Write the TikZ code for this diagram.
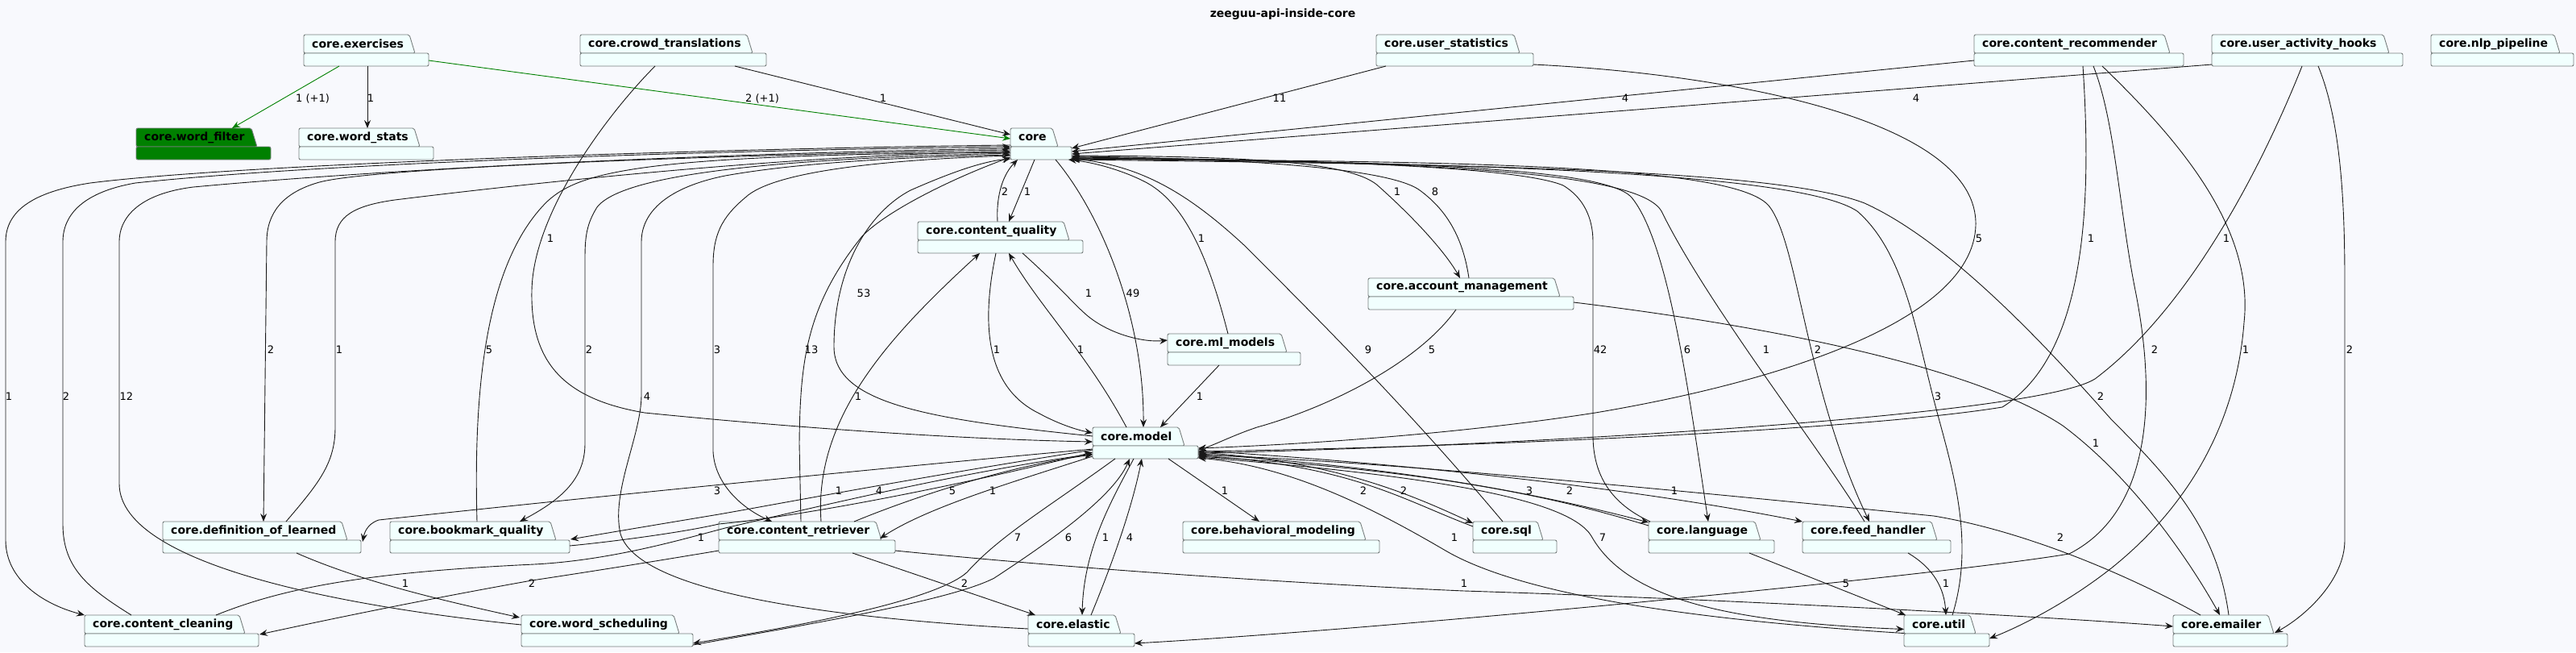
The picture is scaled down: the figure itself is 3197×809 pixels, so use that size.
\documentclass[tikz,border=0pt]{standalone}
\usepackage{fontspec}
\setmainfont{DejaVu Sans}
\usepackage{tikz}
\usepackage{xcolor}
\usetikzlibrary{arrows.meta,calc}

\definecolor{bgcol}{RGB}{248,249,253}
\definecolor{pkgcol}{RGB}{241,255,254}
\definecolor{pkgline}{RGB}{120,126,126}
\definecolor{wfgreen}{RGB}{0,128,0}
\definecolor{edgecol}{RGB}{24,24,24}

\begin{document}
\begin{tikzpicture}[x=1pt,y=-1pt,
    pkg/.style={draw=pkgline,line width=0.9pt,rounded corners=2pt},
    box/.style={rectangle,draw=none,inner sep=0pt,outer sep=0pt,minimum height=39pt},
    pkgname/.style={anchor=west,inner sep=0pt,font=\fontsize{14}{16}\selectfont\bfseries},
    lbl/.style={inner sep=0pt,font=\fontsize{13}{15}\selectfont},
    dep/.style={draw=edgecol,line width=0.9pt,-{Stealth[length=10pt,width=8pt,inset=3.5pt]}},
    depg/.style={dep,draw=wfgreen}]

        \fill[bgcol] (0,0) rectangle (3197,809);
        \useasboundingbox (0,0) rectangle (3197,809);

        \node[font=\fontsize{14}{16}\selectfont\bfseries] (title) at (1592,18) {zeeguu-api-inside-core};

        % Draw the packages
        \foreach \nm/\xa/\ya/\xb/\txt/\col in {
            exercises/377/43/532/core.exercises/pkgcol,
            crowd/720/43/951/core.crowd\_translations/pkgcol,
            userstats/1708/43/1903/core.user\_statistics/pkgcol,
            recommender/2450/43/2710/core.content\_recommender/pkgcol,
            hooks/2745/43/2982/core.user\_activity\_hooks/pkgcol,
            nlp/3017/43/3194/core.nlp\_pipeline/pkgcol,
            wordfilter/169/159/336/core.word\_filter/wfgreen,
            wordstats/371/159/538/core.word\_stats/pkgcol,
            core/1254/159/1330/core/pkgcol,
            quality/1139/275/1344/core.content\_quality/pkgcol,
            account/1698/345/1953/core.account\_management/pkgcol,
            ml/1449/414/1614/core.ml\_models/pkgcol,
            model/1356/530/1487/core.model/pkgcol,
            definition/202/647/448/core.definition\_of\_learned/pkgcol,
            bookmark/484/647/707/core.bookmark\_quality/pkgcol,
            retriever/892/647/1111/core.content\_retriever/pkgcol,
            behavioral/1468/647/1712/core.behavioral\_modeling/pkgcol,
            sql/1828/647/1932/core.sql/pkgcol,
            language/2046/647/2202/core.language/pkgcol,
            feed/2237/647/2421/core.feed\_handler/pkgcol,
            cleaning/105/763/321/core.content\_cleaning/pkgcol,
            scheduling/647/763/860/core.word\_scheduling/pkgcol,
            elastic/1276/763/1408/core.elastic/pkgcol,
            util/2363/763/2469/core.util/pkgcol,
            emailer/2697/763/2839/core.emailer/pkgcol}{
            \filldraw[pkg,fill=\col] (\xa,\ya+23) -- (\xa,\ya) -- (\xb-24,\ya) -- (\xb-17,\ya+23) -- cycle;
            \filldraw[pkg,fill=\col] (\xa,\ya+23) rectangle (\xb,\ya+39);
            \node[box,minimum width={(\xb-\xa)*1pt}] (\nm) at ({(\xa+\xb)/2},{\ya+19.5}) {};
            \node[pkgname] (\nm-t) at ({\xa+10},{\ya+11.5}) {\txt};
        }

        % top row
        \draw[depg] ($(exercises.south west)+(44,0)$) -- ($(wordfilter.north west)+(119,0)$);
        \draw[dep] ($(exercises.south west)+(79,0)$) -- ($(wordstats.north west)+(85,0)$);
        \draw[depg] ($(exercises.north west)+(155,32)$) -- ($(core.north west)+(0,13)$);
        \draw[dep] ($(crowd.south west)+(192,0)$) -- ($(core.north west)+(0,8)$);
        \draw[dep] ($(crowd.south west)+(93,0)$) .. controls (760,135) and (662,260) .. (660,360) .. controls (658,450) and (700,495) .. (800,512) .. controls (1000,532) and (1200,545) .. ($(model.north west)+(0,18)$);
        \draw[dep] ($(userstats.south west)+(12,0)$) -- ($(core.north west)+(76,25)$);
        \draw[dep] ($(userstats.north west)+(195,37)$) .. controls (2150,92) and (2456,150) .. (2452,280) .. controls (2448,400) and (2200,475) .. (1980,512) .. controls (1800,540) and (1600,552) .. ($(model.north west)+(131,26)$);
        \draw[dep] ($(recommender.north west)+(0,32)$) -- ($(core.north west)+(76,29)$);
        \draw[dep] ($(recommender.south west)+(135,0)$) .. controls (2596,250) and (2590,440) .. (2485,505) .. controls (2300,535) and (1800,555) .. ($(model.north west)+(131,30)$);
        \draw[dep] ($(recommender.south west)+(148,0)$) .. controls (2625,150) and (2630,260) .. (2650,360) .. controls (2672,470) and (2680,630) .. (2568,687) .. controls (2400,715) and (1700,782) .. ($(elastic.north west)+(132,35)$);
        \draw[dep] ($(recommender.south west)+(159,0)$) .. controls (2700,170) and (2798,280) .. (2785,400) .. controls (2776,520) and (2720,625) .. (2620,705) .. controls (2560,752) and (2500,780) .. ($(util.north west)+(106,29)$);
        \draw[dep] ($(hooks.north west)+(0,37)$) -- ($(core.north west)+(76,32)$);
        \draw[dep] ($(hooks.south west)+(112,0)$) .. controls (2810,200) and (2720,380) .. (2600,470) .. controls (2520,520) and (1800,556) .. ($(model.north west)+(131,32)$);
        \draw[dep] ($(hooks.south west)+(132,0)$) .. controls (2905,150) and (2910,250) .. (2910,350) -- (2910,670) .. controls (2910,720) and (2860,765) .. ($(emailer.north east)+(-16,22)$);

        % core, left side
        \draw[dep] ($(core.north west)+(0,21)$) .. controls (900,184) and (300,203) .. (112,227) .. controls (40,238) and (7,262) .. (7,300) -- (7,670) .. controls (7,720) and (55,750) .. (cleaning.north west);
        \draw[dep] ($(cleaning.north west)+(58,0)$) .. controls (110,730) and (78,705) .. (78,650) -- (78,300) .. controls (78,265) and (105,238) .. (168,227) .. controls (400,202) and (900,186) .. ($(core.north west)+(0,23)$);
        \draw[dep] ($(scheduling.north west)+(0,12)$) .. controls (450,755) and (148,705) .. (148,600) -- (148,300) .. controls (148,268) and (175,240) .. (240,232) .. controls (500,208) and (900,190) .. ($(core.north west)+(0,25)$);
        \draw[dep] ($(core.north west)+(0,27)$) .. controls (900,192) and (450,208) .. (393,227) .. controls (350,240) and (331,265) .. (331,300) -- ($(definition.north west)+(125,0)$);
        \draw[dep] ($(definition.north west)+(153,0)$) .. controls (395,600) and (416,575) .. (416,530) -- (416,300) .. controls (416,268) and (440,255) .. (490,248) .. controls (700,222) and (1000,192) .. ($(core.north west)+(0,29)$);
        \draw[dep] ($(bookmark.north west)+(108,0)$) .. controls (588,500) and (598,330) .. (679,250) .. controls (720,212) and (800,192) .. ($(core.north west)+(0,30)$);
        \draw[dep] ($(core.north west)+(0,31)$) .. controls (1000,196) and (760,212) .. (738,262) .. controls (728,280) and (726,295) .. (726,320) -- (726,550) .. controls (726,592) and (700,618) .. ($(bookmark.north west)+(161,0)$);
        \draw[dep] ($(elastic.north west)+(0,17)$) .. controls (1000,765) and (790,730) .. (770,662) .. controls (758,610) and (796,540) .. (796,490) -- (796,300) .. controls (796,262) and (830,232) .. (900,218) .. controls (1000,200) and (1150,194) .. ($(core.north west)+(0,33)$);
        \draw[dep] ($(core.north west)+(0,34)$) .. controls (1100,198) and (960,212) .. (925,245) .. controls (895,270) and (885,292) .. (885,330) -- (885,560) .. controls (887,600) and (920,630) .. ($(retriever.north west)+(66,0)$);
        \draw[dep] ($(retriever.north west)+(102,0)$) -- (992,550) .. controls (993,450) and (1000,380) .. (1070,293) .. controls (1100,262) and (1180,222) .. ($(core.north west)+(0,36)$);
        \draw[dep] ($(model.north west)+(0,11)$) .. controls (1150,520) and (1035,500) .. (1035,430) .. controls (1035,330) and (1080,262) .. (1130,236) .. controls (1180,214) and (1220,200) .. ($(core.north west)+(0,38)$);

        % core, bottom
        \draw[dep] ($(quality.north west)+(99,0)$) .. controls (1236,240) and (1246,215) .. ($(core.south west)+(9,0)$);
        \draw[dep] ($(core.south west)+(30,0)$) -- ($(quality.north west)+(113,0)$);
        \draw[dep] ($(core.south west)+(56,0)$) .. controls (1370,270) and (1420,400) .. ($(model.north west)+(63,0)$);
        \draw[dep] ($(ml.north west)+(75,0)$) .. controls (1500,320) and (1470,250) .. (1420,225) .. controls (1390,210) and (1355,201) .. ($(core.south east)+(-4,0)$);

        % core, right side
        \draw[dep] ($(sql.north west)+(37,0)$) .. controls (1750,510) and (1640,400) .. (1545,305) .. controls (1480,245) and (1420,205) .. ($(core.south east)+(0,-1)$);
        \draw[dep] ($(core.north west)+(76,34)$) .. controls (1550,194) and (1680,200) .. (1712,232) .. controls (1760,275) and (1795,315) .. ($(account.north west)+(114,0)$);
        \draw[dep] ($(account.north west)+(125,0)$) .. controls (1815,290) and (1792,258) .. (1762,236) .. controls (1720,205) and (1500,196) .. ($(core.north west)+(76,35)$);
        \draw[dep] ($(language.north west)+(2,0)$) .. controls (2000,625) and (1977,590) .. (1977,540) -- (1977,300) .. controls (1977,270) and (1965,245) .. (1940,230) .. controls (1880,205) and (1600,198) .. ($(core.north west)+(76,36)$);
        \draw[dep] ($(core.north west)+(76,37)$) .. controls (1700,200) and (1990,205) .. (2025,245) .. controls (2070,300) and (2095,480) .. ($(language.north west)+(74,0)$);
        \draw[dep] ($(feed.north west)+(77,0)$) .. controls (2262,560) and (2120,380) .. (2062,262) .. controls (2035,215) and (1800,200) .. ($(core.north west)+(76,37)$);
        \draw[dep] ($(core.north west)+(76,38)$) .. controls (1800,200) and (2150,203) .. (2195,255) .. controls (2232,300) and (2240,480) .. ($(feed.north west)+(83,0)$);
        \draw[dep] ($(util.north west)+(60,0)$) .. controls (2455,660) and (2415,560) .. (2396,480) .. controls (2376,400) and (2360,310) .. (2305,262) .. controls (2230,212) and (1800,202) .. ($(core.north west)+(76,38)$);
        \draw[dep] ($(emailer.north west)+(69,0)$) .. controls (2752,660) and (2700,600) .. (2620,520) .. controls (2540,430) and (2420,300) .. (2314,252) .. controls (2200,208) and (1800,204) .. (core.south east);

        % content_quality, ml_models, account_management
        \draw[dep] ($(quality.south west)+(130,0)$) .. controls (1320,360) and (1330,375) .. (1350,392) .. controls (1378,415) and (1420,425) .. ($(ml.north west)+(0,8)$);
        \draw[dep] ($(quality.south west)+(97,0)$) .. controls (1218,400) and (1222,480) .. (1290,513) .. controls (1312,525) and (1335,533) .. ($(model.north west)+(0,7)$);
        \draw[dep] ($(model.north west)+(42,0)$) .. controls (1350,440) and (1290,380) .. ($(quality.south west)+(113,0)$);
        \draw[dep] ($(retriever.north west)+(127,0)$) .. controls (1010,520) and (1100,420) .. ($(quality.south west)+(77,0)$);
        \draw[dep] ($(ml.south west)+(64,0)$) -- ($(model.north west)+(84,0)$);
        \draw[dep] ($(account.south west)+(109,0)$) .. controls (1760,450) and (1650,505) .. (1560,530) .. controls (1530,540) and (1505,553) .. ($(model.north west)+(131,28)$);
        \draw[dep] ($(account.north east)+(0,30)$) .. controls (2200,405) and (2450,455) .. (2560,528) .. controls (2650,595) and (2720,700) .. ($(emailer.north west)+(58,0)$);

        % model, left side
        \draw[dep] ($(model.north west)+(0,27)$) .. controls (1100,580) and (700,620) .. (470,645) .. controls (455,650) and (452,662) .. ($(definition.north east)+(2,25)$);
        \draw[dep] ($(model.north west)+(0,28)$) .. controls (1150,590) and (950,628) .. (892,638) .. controls (850,645) and (760,660) .. ($(bookmark.north east)+(1,22)$);
        \draw[dep] ($(bookmark.north east)+(0,30)$) .. controls (760,672) and (850,660) .. (892,650) .. controls (1000,640) and (1200,600) .. ($(model.north west)+(0,31)$);
        \draw[dep] ($(cleaning.north west)+(163,0)$) .. controls (350,730) and (450,710) .. (663,700) .. controls (760,695) and (850,668) .. (900,655) .. controls (1050,620) and (1200,585) .. ($(model.north west)+(0,33)$);
        \draw[dep] ($(retriever.north west)+(168,0)$) .. controls (1130,618) and (1250,578) .. ($(model.north west)+(0,34)$);
        \draw[dep] ($(model.north west)+(0,36)$) .. controls (1250,600) and (1150,630) .. ($(retriever.north east)+(-19,21)$);

        % model, bottom
        \draw[dep] ($(model.south west)+(28,0)$) .. controls (1300,630) and (1240,665) .. (1200,710) .. controls (1160,745) and (1000,775) .. ($(scheduling.south east)+(0,-4)$);
        \draw[dep] ($(scheduling.south east)+(0,-2)$) .. controls (1000,775) and (1180,745) .. (1234,717) .. controls (1290,680) and (1380,620) .. ($(model.south west)+(46,0)$);
        \draw[dep] ($(model.south west)+(51,0)$) .. controls (1380,620) and (1345,680) .. ($(elastic.north west)+(67,0)$);
        \draw[dep] ($(elastic.north west)+(78,0)$) .. controls (1380,700) and (1405,630) .. ($(model.south west)+(61,0)$);
        \draw[dep] ($(model.south west)+(94,0)$) -- ($(behavioral.north west)+(95,0)$);

        % model, right side
        \draw[dep] ($(model.north east)+(0,31)$) .. controls (1650,572) and (1740,608) .. ($(sql.north west)+(0,2)$);
        \draw[dep] ($(sql.north west)+(0,6)$) .. controls (1740,620) and (1680,578) .. ($(model.north east)+(0,35)$);
        \draw[dep] ($(model.north east)+(0,33)$) .. controls (1750,580) and (1920,615) .. ($(language.north west)+(0,1)$);
        \draw[dep] ($(language.north west)+(0,5)$) .. controls (1940,620) and (1800,585) .. ($(model.north east)+(0,36)$);
        \draw[dep] ($(model.north east)+(0,29)$) .. controls (1700,572) and (2000,600) .. (feed.north west);
        \draw[dep] ($(model.north east)+(0,37)$) .. controls (1750,588) and (1945,615) .. (1975,665) .. controls (2020,745) and (2150,772) .. ($(util.west)+(0,-2)$);
        \draw[dep] ($(util.west)+(0,3)$) .. controls (2150,772) and (1900,745) .. (1794,683) .. controls (1700,628) and (1600,578) .. ($(model.south east)+(0,-1)$);
        \draw[dep] ($(emailer.north west)+(34,0)$) .. controls (2650,718) and (2520,660) .. (2400,640) .. controls (2000,600) and (1700,572) .. ($(model.north east)+(0,34)$);

        % the rest
        \draw[dep] ($(retriever.north west)+(0,36)$) .. controls (850,690) and (760,705) .. (660,720) .. controls (520,745) and (400,770) .. ($(cleaning.south east)+(1,-15)$);
        \draw[dep] ($(retriever.south west)+(166,0)$) -- ($(elastic.north west)+(9,0)$);
        \draw[dep] ($(retriever.north east)+(0,36)$) .. controls (1400,712) and (1700,728) .. (1817,733) .. controls (2100,742) and (2500,762) .. ($(emailer.west)+(0,-5.5)$);
        \draw[dep] ($(definition.south west)+(166,0)$) .. controls (450,722) and (550,745) .. ($(scheduling.north west)+(-2,3)$);
        \draw[dep] ($(language.south west)+(125,0)$) -- ($(util.north west)+(2,0)$);
        \draw[dep] ($(feed.south west)+(131,0)$) .. controls (2400,705) and (2413,730) .. ($(util.north west)+(52,0)$);

        % Draw the counts
        \foreach \lx/\ly/\lt [count=\i] in {
            388/122/1 (+1), 460/122/1, 946/122/2 (+1), 1096/122/1, 1588/122/11, 2017/122/4, 2378/122/4,
            1247/238/2, 1275/238/1, 1734/238/1, 1781/238/8,
            683/296/1, 1491/296/1, 2456/296/5, 2595/296/1, 2763/296/1,
            1072/364/53, 1351/364/1, 1406/364/49,
            336/434/2, 421/434/1, 607/434/5, 731/434/2, 890/434/3, 1007/434/13, 1237/434/1, 1341/434/1,
            1698/434/9, 1777/434/5, 1986/434/42, 2094/434/6, 2192/434/1, 2256/434/2, 2674/434/2, 2787/434/1, 2916/434/2,
            11/492/1, 82/492/2, 157/492/12, 803/492/4, 1065/492/1, 1489/492/1, 2405/492/3, 2607/492/2,
            2601/550/1,
            890/609/3, 1041/609/1, 1091/609/4, 1182/609/5, 1232/609/1, 1520/609/1, 1692/609/2, 1742/609/2, 1898/609/3, 1948/609/2, 2078/609/1,
            870/667/1, 1263/667/7, 1326/667/6, 1372/667/1, 1402/667/4, 1805/667/1, 1989/667/7, 2557/667/2,
            503/724/1, 660/724/2, 1197/724/2, 1817/724/1, 2291/724/5, 2415/724/1}{
            \node[lbl] (lab\i) at (\lx,\ly) {\lt};
        }

\end{tikzpicture}
\end{document}
